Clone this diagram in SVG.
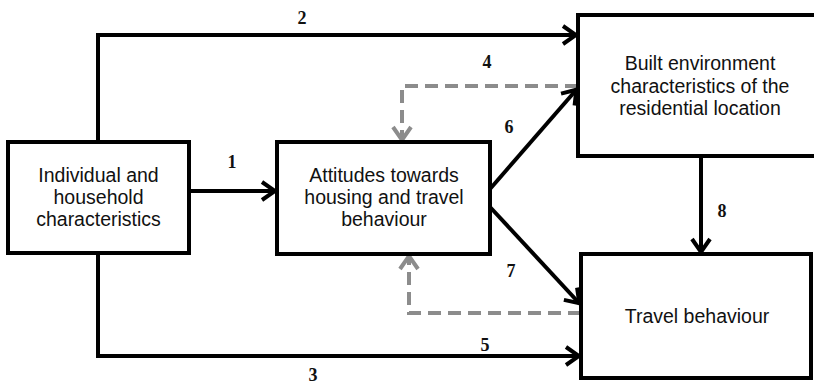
<svg xmlns="http://www.w3.org/2000/svg" width="814" height="387" viewBox="0 0 814 387">
<style>
.box{fill:#fff;stroke:#000;stroke-width:4}
.t{font-family:"Liberation Sans",Arial,sans-serif;font-size:19.5px;fill:#111;text-anchor:middle}
.n{font-family:"Liberation Serif","Times New Roman",serif;font-size:18px;font-weight:bold;fill:#111;text-anchor:middle}
.c{fill:none;stroke:#000;stroke-width:4}
.d{fill:none;stroke:#8c8c8c;stroke-width:4;stroke-dasharray:13 7}
</style>
<defs>
<marker id="ah" markerUnits="userSpaceOnUse" viewBox="-18 -12 20 24" refX="0" refY="0" markerWidth="20" markerHeight="24" orient="auto">
<path d="M-14,-9 L-1,0 L-14,9" fill="none" stroke="#000" stroke-width="4"/>
</marker>
<marker id="ag" markerUnits="userSpaceOnUse" viewBox="-18 -12 20 24" refX="0" refY="0" markerWidth="20" markerHeight="24" orient="auto">
<path d="M-14,-9 L-1,0 L-14,9" fill="none" stroke="#8c8c8c" stroke-width="4"/>
</marker>
</defs>
<rect width="814" height="387" fill="#fff"/>
<g id="connectors">
<path class="c" d="M98,142 V35 H577" marker-end="url(#ah)"/>
<path class="c" d="M189,191 H276" marker-end="url(#ah)"/>
<path class="c" d="M98,253 V356 H580" marker-end="url(#ah)"/>
<path class="d" d="M578,86 H402 V141" marker-end="url(#ag)"/>
<path class="c" d="M490,189 L577,89" marker-end="url(#ah)"/>
<path class="c" d="M490,207 L580,304" marker-end="url(#ah)"/>
<path class="d" d="M581,313 H409 V255" marker-end="url(#ag)"/>
<path class="c" d="M701,156 V253" marker-end="url(#ah)"/>
<text class="n" x="302" y="24">2</text>
<text class="n" x="232" y="168">1</text>
<text class="n" x="313" y="381">3</text>
<text class="n" x="487" y="68">4</text>
<text class="n" x="485" y="351">5</text>
<text class="n" x="509" y="133">6</text>
<text class="n" x="511" y="277">7</text>
<text class="n" x="722" y="217">8</text>
</g>
<g id="node-individual">
<rect class="box" x="8" y="142" width="181" height="111"/>
<text class="t" x="98.5" y="182">Individual and</text>
<text class="t" x="98.5" y="204">household</text>
<text class="t" x="98.5" y="226">characteristics</text>
</g>
<g id="node-attitudes">
<rect class="box" x="277" y="142" width="213" height="112"/>
<text class="t" x="384" y="182">Attitudes towards</text>
<text class="t" x="384" y="204">housing and travel</text>
<text class="t" x="384" y="226">behaviour</text>
</g>
<g id="node-built">
<rect class="box" x="578" y="15" width="240" height="141"/>
<text class="t" x="700" y="70">Built environment</text>
<text class="t" x="700" y="93">characteristics of the</text>
<text class="t" x="700" y="115">residential location</text>
</g>
<g id="node-travel">
<rect class="box" x="581" y="254" width="230" height="124"/>
<text class="t" x="697" y="323">Travel behaviour</text>
</g>
</svg>
